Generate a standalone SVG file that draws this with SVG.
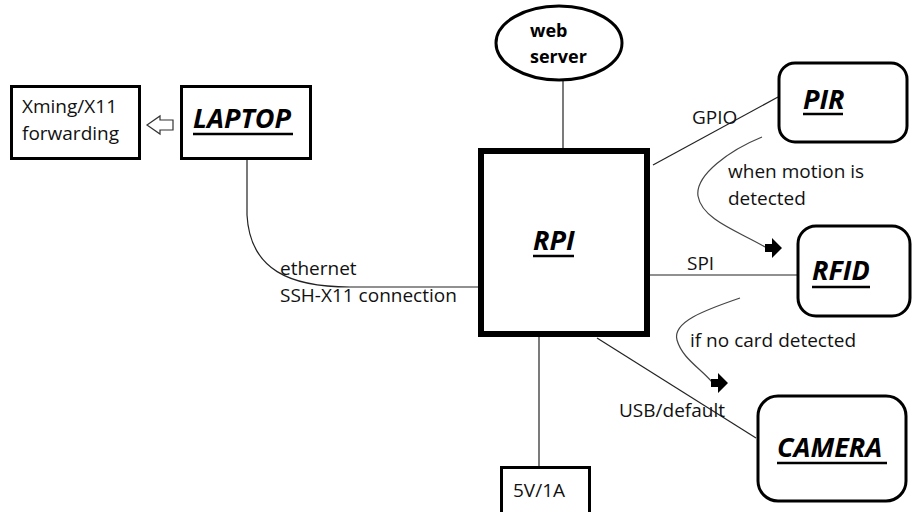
<svg xmlns="http://www.w3.org/2000/svg" width="914" height="512" viewBox="0 0 914 512">
  <style>
    .box { fill: #fff; stroke: #000; stroke-width: 3; }
    .wire { fill: none; stroke: #222; stroke-width: 1.2; }
    .flow { fill: none; stroke: #444; stroke-width: 1.2; }
    .lbl { font-family: "Open Sans", "Noto Sans", sans-serif; font-size: 19px; fill: #111; }
    .ttl { font-family: "Open Sans", "Noto Sans", sans-serif; font-size: 27px; font-weight: bold; font-style: italic; fill: #000; }
    .bold { font-family: "Open Sans", "Noto Sans", sans-serif; font-size: 18px; font-weight: bold; fill: #000; }
    .ul { stroke: #000; stroke-width: 2.5; }
  </style>
  <defs>
    <path id="blockArrow" d="M0,-4 L7,-4 L7,-10 L17,0 L7,10 L7,4 L0,4 Z" fill="#000"/>
  </defs>
  <rect width="914" height="512" fill="#fff"/>

  <g id="connectors">
    <!-- laptop to RPI (ethernet) -->
    <path class="wire" d="M247,159 L247,215 C250,270 290,287 350,287 L478,287"/>
    <!-- web server to RPI -->
    <line class="wire" x1="563" y1="80" x2="563" y2="148"/>
    <!-- GPIO -->
    <line class="wire" x1="653" y1="165" x2="778" y2="97"/>
    <!-- SPI -->
    <line class="wire" x1="650" y1="275" x2="797" y2="275"/>
    <!-- USB -->
    <line class="wire" x1="597" y1="338" x2="756" y2="438"/>
    <!-- power -->
    <line class="wire" x1="539" y1="337" x2="539" y2="467"/>
    <!-- hollow arrow laptop -> Xming -->
    <path d="M147,125 L160,116 L160,120 L173,120 L173,130 L160,130 L160,134 Z" fill="#fff" stroke="#333" stroke-width="1.2"/>
    <!-- PIR triggers RFID -->
    <path class="flow" d="M762,137 C730,150 695,175 698,196 C702,220 740,232 765,247"/>
    <use href="#blockArrow" x="765" y="248"/>
    <!-- RFID falls back to camera -->
    <path class="flow" d="M740,298 C705,310 672,322 677,340 C682,358 700,368 712,382"/>
    <use href="#blockArrow" x="711" y="383"/>
  </g>

  <text class="lbl" x="280" y="275">ethernet</text>
  <text class="lbl" x="280" y="302">SSH-X11 connection</text>
  <text class="lbl" x="692" y="124">GPIO</text>
  <text class="lbl" x="728" y="178">when motion is</text>
  <text class="lbl" x="728" y="205">detected</text>
  <text class="lbl" x="687" y="270">SPI</text>
  <text class="lbl" x="690" y="347">if no card detected</text>
  <text class="lbl" x="619" y="417">USB/default</text>

  <g id="xming">
    <rect class="box" x="11.5" y="86.5" width="128" height="72"/>
    <text class="lbl" x="22" y="113">Xming/X11</text>
    <text class="lbl" x="22" y="140">forwarding</text>
  </g>

  <g id="laptop">
    <rect class="box" x="181.5" y="86.5" width="129" height="72"/>
    <text class="ttl" x="193" y="128">LAPTOP</text>
    <line class="ul" x1="193" y1="134" x2="293" y2="134"/>
  </g>

  <g id="webserver">
    <ellipse class="box" cx="559" cy="43" rx="63" ry="37"/>
    <text class="bold" x="530" y="37">web</text>
    <text class="bold" x="530" y="63">server</text>
  </g>

  <g id="rpi">
    <rect x="481" y="151" width="166" height="183" fill="#fff" stroke="#000" stroke-width="6"/>
    <text class="ttl" x="533" y="250">RPI</text>
    <line class="ul" x1="533" y1="256" x2="574" y2="256"/>
  </g>

  <g id="pir">
    <rect class="box" x="779" y="63" width="128" height="79" rx="16"/>
    <text class="ttl" x="803" y="109">PIR</text>
    <line class="ul" x1="803" y1="114" x2="843" y2="114"/>
  </g>

  <g id="rfid">
    <rect class="box" x="798" y="226" width="112" height="90" rx="18"/>
    <text class="ttl" x="812" y="280">RFID</text>
    <line class="ul" x1="812" y1="287" x2="870" y2="287"/>
  </g>

  <g id="camera">
    <rect class="box" x="758" y="396" width="148" height="105" rx="20"/>
    <text class="ttl" x="777" y="457">CAMERA</text>
    <line class="ul" x1="777" y1="463" x2="887" y2="463"/>
  </g>

  <g id="power">
    <rect class="box" x="501.5" y="467.5" width="88" height="60"/>
    <text class="lbl" x="513" y="497">5V/1A</text>
  </g>
</svg>
